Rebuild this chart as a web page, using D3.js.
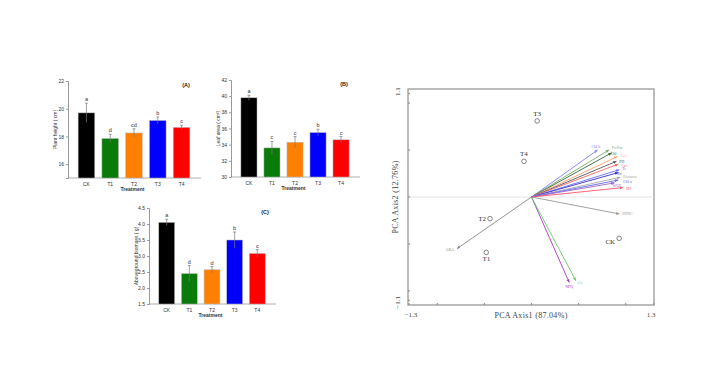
<!DOCTYPE html>
<html><head><meta charset="utf-8">
<script src="https://cdn.jsdelivr.net/npm/d3@7"></script>
<style>body{margin:0;background:#fff}svg{display:block}</style>
</head><body>
<script>
// ---------- data ----------
const treatments = ["CK","T1","T2","T3","T4"];
const barColors = ["#000000","#0a7a0a","#ff8000","#0000ff","#ff0000"];
const heightVals = [19.7,17.85,18.25,19.15,18.65];
const heightErr = [0.7,0.3,0.3,0.25,0.15];
const heightLetters = ["a","d","cd","b","c"];
const heightTicks = [16,18,20,22];
const areaVals = [39.8,33.6,34.3,35.5,34.6];
const areaErr = [0.3,0.8,0.7,0.4,0.4];
const areaLetters = ["a","c","c","b","c"];
const areaTicks = [30,32,34,36,38,40,42];
const bioVals = [4.05,2.45,2.57,3.5,3.08];
const bioErr = [0.1,0.25,0.1,0.25,0.12];
const bioLetters = ["a","d","d","b","c"];
const bioTicks = [1.5,2.0,2.5,3.0,3.5,4.0,4.5];

const pcaPoints = ["T3","T4","T2","T1","CK"];
const pcaPx = [0.06,-0.08,-0.44,-0.48,0.93];
const pcaPy = [0.81,0.38,-0.23,-0.59,-0.44];
const varNames = ["Chl b","Fv/Fm","Chl","LA","PH","Car","Tr","Pn","Biomass","Chl a","WUE","SD","PDNC","NPQ","Gs","ABA"];
const varX = [0.70,0.82,0.85,0.91,0.90,0.92,0.93,0.92,0.94,0.92,0.88,0.97,0.93,0.40,0.47,-0.79];
const varY = [0.50,0.50,0.47,0.43,0.38,0.35,0.29,0.26,0.21,0.18,0.15,0.10,-0.18,-0.91,-0.89,-0.55];
const varColors = ["#7f7fff","#77aa77","#336633","#ffa070","#555555","#ff6666","#6a6aff","#3333cc","#aaaaaa","#6666ee","#9966cc","#ff5566","#999999","#aa33cc","#66cc66","#888888"];
const pcaXTicks = [-1.3,-1,-0.5,0,0.5,1,1.3];
const pcaYTicks = [-1.1,-1,-0.5,0,0.5,1,1.1];

const W=706,H=381;
const svg=d3.select("body").append("svg").attr("width",W).attr("height",H);
const sans="Liberation Sans, Arial, sans-serif", serif="Liberation Serif, Times New Roman, serif";

function barPanel(o){
  const g=svg.append("g");
  const y=d3.scaleLinear().domain(o.domain).range([o.y1,o.y0]);
  const x=d3.scaleBand().domain(treatments).range([o.x0+3,o.x1]).padding(0.3);
  const ya=d3.axisLeft(y).tickValues(o.ticks).tickSize(2).tickPadding(2).tickFormat(o.fmt);
  const yg=g.append("g").attr("transform",`translate(${o.x0},0)`).call(ya);
  yg.select(".domain").attr("stroke","#999");
  yg.selectAll(".tick line").attr("stroke","#999");
  yg.selectAll("text").attr("font-size",5).attr("font-family",sans).attr("fill","#333");
  const xa=d3.axisBottom(x).tickSize(0).tickPadding(4);
  const xg=g.append("g").attr("transform",`translate(0,${o.y1})`).call(xa);
  xg.select(".domain").remove();
  xg.selectAll("text").attr("font-size",5).attr("font-family",sans).attr("fill","#333");
  g.append("line").attr("x1",o.x0).attr("x2",o.x1+4).attr("y1",o.y1).attr("y2",o.y1).attr("stroke","#999").attr("stroke-width",0.8);
  g.selectAll("rect.bar").data(o.vals).join("rect").attr("class","bar")
    .attr("x",(d,i)=>x(treatments[i])).attr("width",x.bandwidth())
    .attr("y",d=>y(d)).attr("height",d=>o.y1-y(d))
    .attr("fill",(d,i)=>barColors[i]).attr("stroke","#bbb").attr("stroke-width",0.5);
  o.vals.forEach((v,i)=>{
    const cx=x(treatments[i])+x.bandwidth()/2;
    const t=y(v+o.err[i]), b=y(v-o.err[i]);
    g.append("line").attr("x1",cx).attr("x2",cx).attr("y1",t).attr("y2",b).attr("stroke","#777").attr("stroke-width",0.7);
    g.append("line").attr("x1",cx-1.5).attr("x2",cx+1.5).attr("y1",t).attr("y2",t).attr("stroke","#777").attr("stroke-width",0.7);
    g.append("text").attr("x",cx).attr("y",t-2).attr("text-anchor","middle").attr("font-size",5.5).attr("font-family",sans).attr("fill","#333").text(o.letters[i]);
  });
  g.append("text").attr("x",(o.x0+o.x1)/2).attr("y",o.y1+13).attr("text-anchor","middle").attr("font-size",5).attr("font-weight","bold").attr("font-family",sans).attr("fill","#333").text("Treatment");
  g.append("text").attr("transform",`translate(${o.x0-11},${(o.y0+o.y1)/2}) rotate(-90)`).attr("text-anchor","middle").attr("font-size",5).attr("font-family",sans).attr("fill","#333").text(o.ylabel);
  g.append("text").attr("x",o.tagX).attr("y",o.y0+6).attr("text-anchor","middle").attr("font-size",5.5).attr("font-weight","bold").attr("font-family",sans).attr("fill","#222").text(o.tag);
}
barPanel({x0:68,x1:197,y0:81,y1:178,domain:[15,22],ticks:heightTicks,fmt:d3.format("d"),vals:heightVals,err:heightErr,letters:heightLetters,ylabel:"Plant height ( cm)",tag:"(A)",tagX:186});
barPanel({x0:231,x1:356,y0:80,y1:177,domain:[30,42],ticks:areaTicks,fmt:d3.format("d"),vals:areaVals,err:areaErr,letters:areaLetters,ylabel:"Leaf area ( cm²)",tag:"(B)",tagX:344});
barPanel({x0:149,x1:272,y0:208,y1:304,domain:[1.5,4.5],ticks:bioTicks,fmt:d3.format(".1f"),vals:bioVals,err:bioErr,letters:bioLetters,ylabel:"Aboveground biomass ( g)",tag:"(C)",tagX:265});

// ---------- PCA ----------
const px=d3.scaleLinear().domain([-1.3,1.3]).range([409,654]);
const py=d3.scaleLinear().domain([-1.15,1.15]).range([305,89]);
const pg=svg.append("g");
pg.append("rect").attr("x",px(-1.3)-1).attr("y",py(1.15)).attr("width",px(1.3)-px(-1.3)+1).attr("height",py(-1.15)-py(1.15)).attr("fill","none").attr("stroke","#999").attr("stroke-width",1.3);
pg.append("line").attr("x1",px(-1.3)).attr("x2",px(1.3)).attr("y1",py(0)).attr("y2",py(0)).attr("stroke","#ddd").attr("stroke-width",0.8);
pcaXTicks.forEach(t=>pg.append("line").attr("x1",px(t)).attr("x2",px(t)).attr("y1",py(-1.15)).attr("y2",py(-1.15)-2).attr("stroke","#888"));
pcaYTicks.forEach(t=>pg.append("line").attr("x1",px(-1.3)-1).attr("x2",px(-1.3)+1).attr("y1",py(t)).attr("y2",py(t)).attr("stroke","#888"));
[-1.3,1.3].forEach(t=>pg.append("text").attr("x",px(t)+(t<0?2:-3)).attr("y",317).attr("text-anchor","middle").attr("font-size",7).attr("font-family",serif).attr("fill","#444").text(d3.format(".1f")(t)));
[1.1,-1.1].forEach(t=>pg.append("text").attr("transform",`translate(400,${py(t)+(t>0?-2:2)}) rotate(-90)`).attr("text-anchor","middle").attr("font-size",7).attr("font-family",serif).attr("fill","#444").text(d3.format(".1f")(t)));
pg.append("text").attr("x",531).attr("y",318).attr("text-anchor","middle").attr("font-size",8).attr("font-family",serif).attr("fill","#444").attr("letter-spacing",0.3).text("PCA  Axis1  (87.04%)");
pg.append("text").attr("transform",`translate(398,${py(0)}) rotate(-90)`).attr("text-anchor","middle").attr("font-size",8).attr("font-family",serif).attr("fill","#444").attr("letter-spacing",0.3).text("PCA  Axis2  (12.76%)");
const defs=svg.append("defs");
varColors.forEach((c,i)=>{
  defs.append("marker").attr("id","m"+i).attr("viewBox","0 0 10 10").attr("refX",9).attr("refY",5)
    .attr("markerWidth",4).attr("markerHeight",4).attr("orient","auto")
    .append("path").attr("d","M0,1L10,5L0,9z").attr("fill",c);
});
varNames.forEach((n,i)=>{
  pg.append("line").attr("x1",px(0)).attr("y1",py(0)).attr("x2",px(varX[i])).attr("y2",py(varY[i]))
    .attr("stroke",varColors[i]).attr("stroke-width",0.9).attr("marker-end",`url(#m${i})`);
});
// label nudges [dx, dy] to reduce collisions among crowded labels
const labelNudge = {"Chl b":[-6,-2],"Fv/Fm":[3,-1],"Chl":[-1,2.5],"LA":[4,0.5],"PH":[3,1.5],"Car":[3,2.5],
  "Tr":[3,0],"Pn":[-1,2.8],"Biomass":[3,0.5],"Chl a":[5,3],"WUE":[-2,4.5],"SD":[3,2],"PDNC":[3,1.5],"NPQ":[-4,6],"Gs":[2,3],"ABA":[-3,2]};
varNames.forEach((n,i)=>{
  const nd=labelNudge[n];
  pg.append("text").attr("x",px(varX[i])+nd[0]).attr("y",py(varY[i])+nd[1]).attr("text-anchor",n==="ABA"?"end":"start")
    .attr("font-size",4).attr("font-family",serif).attr("fill",varColors[i]).text(n);
});
const labOff={T3:[0,-5,"middle"],T4:[0,-5,"middle"],T2:[-4,2,"end"],T1:[0,9,"middle"],CK:[-4,6,"end"]};
pcaPoints.forEach((n,i)=>{
  const cx=px(pcaPx[i]), cy=py(pcaPy[i]);
  pg.append("circle").attr("cx",cx).attr("cy",cy).attr("r",2.3).attr("fill","none").attr("stroke","#555").attr("stroke-width",0.7);
  const o=labOff[n];
  pg.append("text").attr("x",cx+o[0]).attr("y",cy+o[1]).attr("text-anchor",o[2]).attr("font-size",7).attr("font-family",serif).attr("fill","#333").text(n);
});
</script>
</body></html>
